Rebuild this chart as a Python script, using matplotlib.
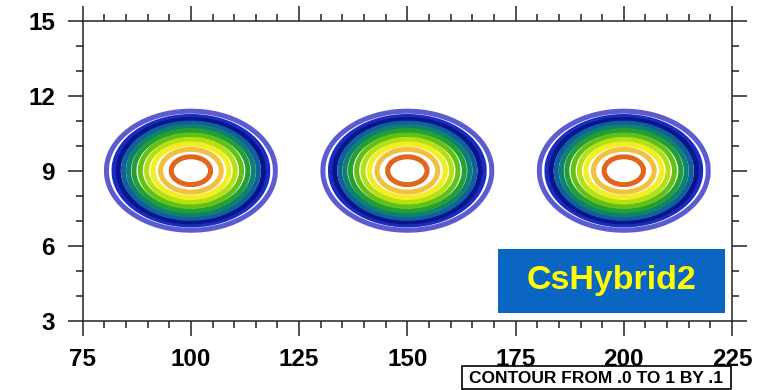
import numpy as np
import matplotlib
matplotlib.use("Agg")
import matplotlib.pyplot as plt
from matplotlib.patches import Rectangle

# ---- data ----
bell_x = [100, 150, 200]          # bell centres (x)
bell_y = [9, 9, 9]                # bell centres (y)
bell_rx = 19.5                    # outer (0.0) contour half-width in x units
bell_ry = 2.38                    # outer (0.0) contour half-height in y units
levels = [0.0, 0.1, 0.2, 0.3, 0.4, 0.5, 0.6, 0.7, 0.8, 0.9, 1.0]
ring_frac = [1.0, 0.91, 0.86, 0.80, 0.74, 0.675, 0.60, 0.525, 0.45, 0.36, 0.235]
level_colors = ["#5c5cd0", "#1a2cc0", "#0a148c", "#10609e", "#108070",
                "#22a034", "#64c014", "#b4e014", "#f2ee22", "#f2c040",
                "#e0661c"]
xticks = [75, 100, 125, 150, 175, 200, 225]
yticks = [3, 6, 9, 12, 15]
title_text = "CsHybrid2"
info_text = "CONTOUR FROM .0 TO 1 BY .1"

# ---- field built from the bells ----
x = np.linspace(75, 225, 601)
y = np.linspace(3, 15, 481)
X, Y = np.meshgrid(x, y)
prof_r = np.array([0.0] + ring_frac[::-1] + [1.08, 5.0])
prof_v = np.array([1.06] + levels[::-1] + [-0.06, -0.06])
Z = np.full_like(X, -0.06)
for cx, cy in zip(bell_x, bell_y):
    r = np.sqrt(((X - cx) / bell_rx) ** 2 + ((Y - cy) / bell_ry) ** 2)
    Z = np.maximum(Z, np.interp(r, prof_r, prof_v))

fig = plt.figure(figsize=(7.72, 3.90), dpi=100)
ax = fig.add_axes([0.1071, 0.1777, 0.8411, 0.7692])
ax.contour(X, Y, Z, levels=levels, colors=level_colors, linewidths=3.6)

ax.set_xlim(75, 225)
ax.set_ylim(3, 15)
ax.set_xticks(xticks)
ax.set_yticks(yticks)
ax.set_xticks(np.arange(75, 226, 5), minor=True)
ax.set_yticks(np.arange(3, 16, 1), minor=True)
ax.tick_params(which="both", direction="out", top=True, right=True,
               color="#222222", width=1.1)
ax.tick_params(which="major", length=11, pad=9)
ax.tick_params(which="minor", length=5)
for lab in ax.get_xticklabels() + ax.get_yticklabels():
    lab.set_fontfamily("Liberation Sans")
    lab.set_fontweight("bold")
    lab.set_fontsize(17.5)
for s in ax.spines.values():
    s.set_linewidth(1.1)
    s.set_color("#222222")

# blue label box
fig.patches.append(Rectangle((0.645, 0.1974), 0.294, 0.164,
                             transform=fig.transFigure, facecolor="#0a66c2",
                             edgecolor="none", zorder=5))
fig.text(0.792, 0.2795, title_text, color="#ffff00", fontsize=24.5,
         fontweight="bold", family="Liberation Sans", ha="center",
         va="center", zorder=6)

# contour info box
fig.patches.append(Rectangle((0.5985, 0.003), 0.348, 0.058,
                             transform=fig.transFigure, facecolor="white",
                             edgecolor="black", linewidth=1.2, zorder=5))
fig.text(0.7725, 0.030, info_text, color="black", fontsize=12.5,
         fontweight="bold", family=["Liberation Sans Narrow", "Liberation Sans"],
         ha="center", va="center", zorder=6)

fig.savefig("out.png", dpi=100, facecolor="white")
